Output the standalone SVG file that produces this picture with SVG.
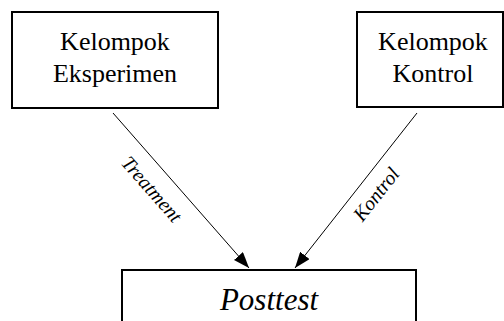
<svg xmlns="http://www.w3.org/2000/svg" width="504" height="321" viewBox="0 0 504 321">
<defs>
<marker id="ah" viewBox="0 0 16 12" refX="16" refY="6" markerWidth="16" markerHeight="12" markerUnits="userSpaceOnUse" orient="auto">
<path d="M0,0 L16,6 L0,12 Z" fill="#000"/>
</marker>
</defs>
<g id="eksperimen">
<rect x="12" y="12" width="206" height="96" fill="#fff" stroke="#000" stroke-width="2"/>
<text font-family="Liberation Serif" font-size="26" text-anchor="middle" x="115" y="50">Kelompok</text>
<text font-family="Liberation Serif" font-size="26" text-anchor="middle" x="115" y="82">Eksperimen</text>
</g>
<g id="kontrol">
<rect x="357" y="12" width="146" height="95" fill="#fff" stroke="#000" stroke-width="2"/>
<text font-family="Liberation Serif" font-size="26" text-anchor="middle" x="433" y="50">Kelompok</text>
<text font-family="Liberation Serif" font-size="26" text-anchor="middle" x="433" y="82">Kontrol</text>
</g>
<g id="posttest">
<rect x="122" y="270" width="294" height="60" fill="#fff" stroke="#000" stroke-width="2"/>
<text font-family="Liberation Serif" font-style="italic" font-size="31" text-anchor="middle" x="269" y="310">Posttest</text>
</g>
<g id="connectors" stroke="#000" stroke-width="1" fill="none">
<line x1="113" y1="113" x2="249" y2="268" marker-end="url(#ah)"/>
<line x1="417" y1="113" x2="295" y2="268" marker-end="url(#ah)"/>
</g>
<g id="labels">
<text font-family="Liberation Serif" font-style="italic" font-size="20" text-anchor="middle" transform="rotate(48.7 152 189)" x="152" y="196">Treatment</text>
<text font-family="Liberation Serif" font-style="italic" font-size="20" text-anchor="middle" transform="rotate(-51.8 376 194)" x="376" y="201">Kontrol</text>
</g>
</svg>
